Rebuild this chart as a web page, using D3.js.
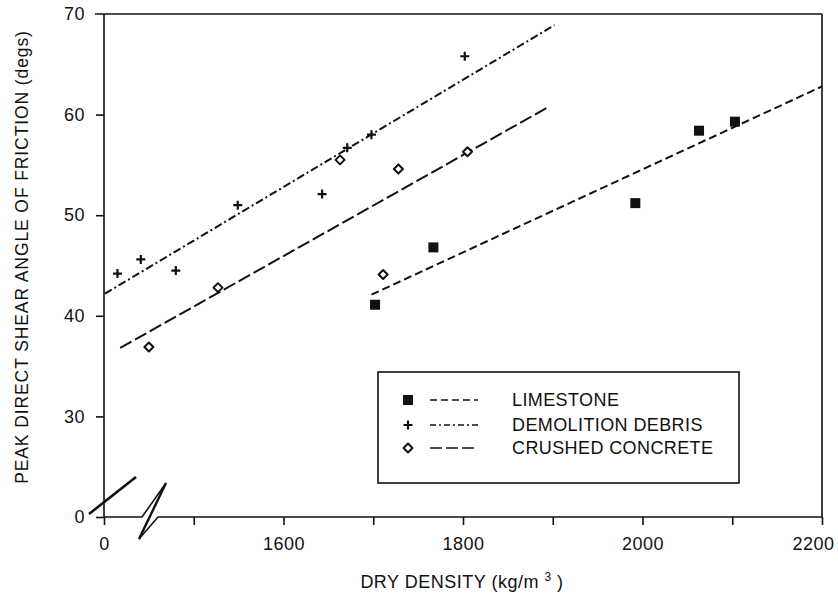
<!DOCTYPE html>
<html>
<head>
<meta charset="utf-8">
<script src="https://cdn.jsdelivr.net/npm/d3@7/dist/d3.min.js"></script>
<style>
  html, body { margin: 0; padding: 0; background: #fff; }
  svg { display: block; }
  text { font-family: "Liberation Sans", Arial, Helvetica, sans-serif; fill: #111; }
</style>
</head>
<body>
<svg id="chart" width="838" height="600"></svg>
<script>
// ---- data ----
const seriesNames = ["LIMESTONE", "DEMOLITION DEBRIS", "CRUSHED CONCRETE"];

const limestoneX = [1702, 1767, 1992, 2063, 2103];
const limestoneY = [41.1, 46.8, 51.2, 58.4, 59.3];

const debrisX = [1415, 1441, 1480, 1549, 1643, 1671, 1698, 1802];
const debrisY = [44.2, 45.6, 44.5, 51.0, 52.1, 56.7, 58.0, 65.8];

const concreteX = [1450, 1527, 1663, 1711, 1728, 1805];
const concreteY = [36.9, 42.8, 55.5, 44.1, 54.6, 56.3];

// fitted trend lines: end points [x0, x1], [y0, y1]
const limestoneFitX = [1698, 2200];
const limestoneFitY = [42.1, 62.8];
const debrisFitX = [1401, 1902];
const debrisFitY = [42.2, 68.9];
const concreteFitX = [1418, 1896];
const concreteFitY = [36.8, 60.8];

// axes (broken: the first tick on each axis is labelled "0")
const xTickValues = [1400, 1500, 1600, 1700, 1800, 1900, 2000, 2100, 2200];
const xTickLabels = ["0", "", "1600", "", "1800", "", "2000", "", "2200"];
const yTickValues = [20, 30, 40, 50, 60, 70];
const yTickLabels = ["0", "30", "40", "50", "60", "70"];

const xTitle = "DRY DENSITY (kg/m";
const xTitleSup = "3";
const yTitle = "PEAK DIRECT SHEAR ANGLE OF FRICTION  (degs)";

// ---- layout ----
const svg = d3.select("#chart");
const ink = "#111";
const pL = 104, pR = 822, pT = 14, pB = 517;

const x = d3.scaleLinear().domain([1400, 2200]).range([pL, pR]);
const y = d3.scaleLinear().domain([20, 70]).range([pB, pT]);

const fontSize = 18;
const ls = "0.5px";

// frame: top and right borders
svg.append("line").attr("x1", pL - 9).attr("x2", pR).attr("y1", pT).attr("y2", pT)
  .attr("stroke", ink).attr("stroke-width", 1.6);
svg.append("line").attr("x1", pR).attr("x2", pR).attr("y1", pT).attr("y2", pB)
  .attr("stroke", ink).attr("stroke-width", 1.6);
// y axis line
svg.append("line").attr("x1", pL).attr("x2", pL).attr("y1", pT).attr("y2", pB)
  .attr("stroke", ink).attr("stroke-width", 1.6);

// y axis ticks
const yAxis = d3.axisLeft(y).tickValues(yTickValues).tickSize(8).tickPadding(11)
  .tickFormat((d, i) => yTickLabels[i]);
const gy = svg.append("g").attr("transform", `translate(${pL},0)`).call(yAxis);
gy.select(".domain").remove();
gy.selectAll(".tick line").attr("stroke", ink).attr("stroke-width", 1.6);
gy.selectAll(".tick text").attr("font-size", fontSize).attr("fill", ink)
  .style("letter-spacing", ls)
  .style("font-family", '"Liberation Sans", Arial, sans-serif');
gy.selectAll(".tick").filter(d => d === 70).select("line").remove();

// x axis ticks
const xAxis = d3.axisBottom(x).tickValues(xTickValues).tickSize(8).tickPadding(12)
  .tickFormat((d, i) => xTickLabels[i]);
const gx = svg.append("g").attr("transform", `translate(0,${pB})`).call(xAxis);
gx.select(".domain").remove();
gx.selectAll(".tick line").attr("stroke", ink).attr("stroke-width", 1.6);
gx.selectAll(".tick text").attr("font-size", fontSize).attr("fill", ink)
  .style("letter-spacing", ls)
  .style("font-family", '"Liberation Sans", Arial, sans-serif');
gx.selectAll(".tick").filter(d => d === 2200).select("text")
  .attr("text-anchor", "end").attr("x", 12);

// x axis line with break symbol
const brk = x(1400) + 38;
svg.append("path")
  .attr("d", `M${pL},${pB} L${brk},${pB} L${brk + 24},${pB - 34}`)
  .attr("fill", "none").attr("stroke", ink).attr("stroke-width", 1.6);
svg.append("path")
  .attr("d", `M${brk - 3},${pB + 22} L${brk + 24},${pB - 34}`)
  .attr("fill", "none").attr("stroke", ink).attr("stroke-width", 2.4);
svg.append("path")
  .attr("d", `M${brk - 3},${pB + 22} L${brk + 16},${pB} L${pR},${pB}`)
  .attr("fill", "none").attr("stroke", ink).attr("stroke-width", 1.6);

// y axis break slash
svg.append("line")
  .attr("x1", pL - 15).attr("y1", pB - 3)
  .attr("x2", pL + 32).attr("y2", pB - 40)
  .attr("stroke", ink).attr("stroke-width", 2.6);

// axis titles
const xt = svg.append("text").attr("x", 462).attr("y", 588)
  .attr("text-anchor", "middle").attr("font-size", fontSize).style("letter-spacing", ls);
xt.append("tspan").text(xTitle + " ");
xt.append("tspan").text(xTitleSup).attr("font-size", 12).attr("dy", -7);
xt.append("tspan").text(" )").attr("dy", 7);

svg.append("text")
  .attr("transform", `translate(28,257) rotate(-90)`)
  .attr("text-anchor", "middle").attr("font-size", 17.5)
  .style("letter-spacing", "0.9px")
  .text(yTitle);

// ---- trend lines ----
const dashes = ["8,4", "8,3,2,3", "13,4"];
const fits = [
  [limestoneFitX, limestoneFitY],
  [debrisFitX, debrisFitY],
  [concreteFitX, concreteFitY]
];
const line = d3.line().x(d => x(d[0])).y(d => y(d[1]));
fits.forEach((f, i) => {
  const pts = f[0].map((v, j) => [v, f[1][j]]);
  svg.append("path").attr("d", line(pts))
    .attr("fill", "none").attr("stroke", ink).attr("stroke-width", 2)
    .attr("stroke-dasharray", dashes[i]);
});

// ---- markers ----
function drawMarker(g, kind, cx, cy) {
  if (kind === 0) {
    g.append("rect").attr("x", cx - 5).attr("y", cy - 5).attr("width", 10).attr("height", 10)
      .attr("fill", ink);
  } else if (kind === 1) {
    g.append("path").attr("d", `M${cx - 4.5},${cy} L${cx + 4.5},${cy} M${cx},${cy - 4.5} L${cx},${cy + 4.5}`)
      .attr("stroke", ink).attr("stroke-width", 2.2);
  } else {
    g.append("path").attr("d", `M${cx},${cy - 4.5} L${cx + 4.5},${cy} L${cx},${cy + 4.5} L${cx - 4.5},${cy} Z`)
      .attr("fill", "#fff").attr("stroke", ink).attr("stroke-width", 2).attr("stroke-linejoin", "round");
  }
}
const series = [
  [limestoneX, limestoneY],
  [debrisX, debrisY],
  [concreteX, concreteY]
];
const gm = svg.append("g");
series.forEach((s, i) => {
  s[0].forEach((v, j) => drawMarker(gm, i, x(v), y(s[1][j])));
});

// ---- legend ----
const lg = svg.append("g");
lg.append("rect").attr("x", 378).attr("y", 372).attr("width", 361).attr("height", 111)
  .attr("fill", "#fff").attr("stroke", ink).attr("stroke-width", 1.6);
const rowY = [400, 425, 448];
const legendDashes = ["7,4", "6,3,2,3", "12,4"];
seriesNames.forEach((name, i) => {
  drawMarker(lg, i, 408, rowY[i]);
  lg.append("line").attr("x1", 430).attr("x2", 478).attr("y1", rowY[i]).attr("y2", rowY[i])
    .attr("stroke", ink).attr("stroke-width", 1.6).attr("stroke-dasharray", legendDashes[i]);
  lg.append("text").attr("x", 512).attr("y", rowY[i]).attr("dy", "0.35em")
    .attr("font-size", fontSize).style("letter-spacing", "0.4px").text(name);
});
</script>
</body>
</html>
